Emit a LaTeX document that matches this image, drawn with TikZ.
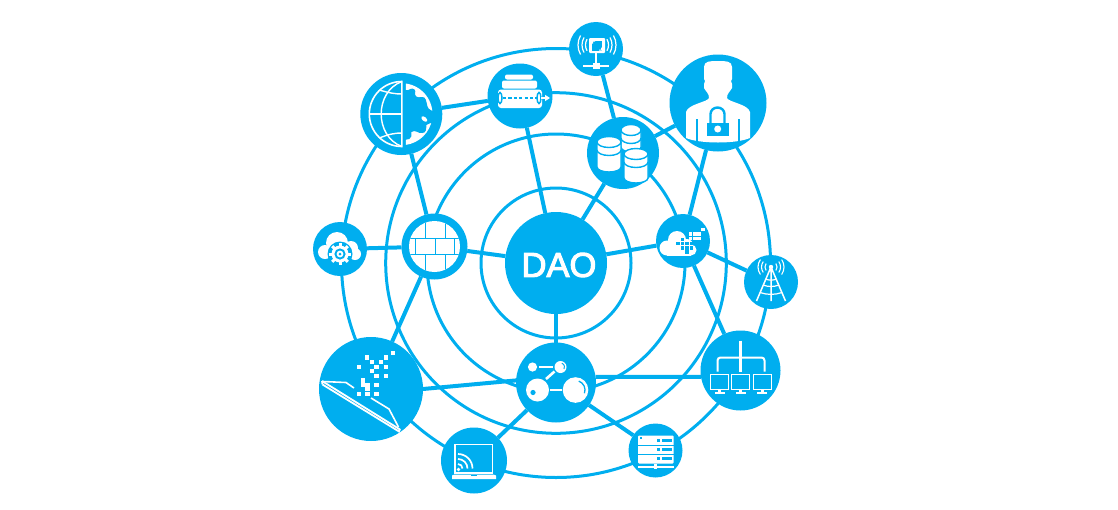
\documentclass[tikz,border=0pt]{standalone}
\usepackage{fontspec}
\setmainfont{Liberation Sans}
\newfontfamily\daofont[FakeBold=3]{Liberation Sans}
\usetikzlibrary{backgrounds}
\definecolor{dao}{HTML}{00AEEF}
\tikzset{
  x=1pt,y=-1pt,
  hub/.style={circle,fill=dao,inner sep=0pt,outer sep=0pt,minimum size=#1},
  ring/.style={draw=dao,line width=3pt},
  link/.style={draw=dao,line width=4pt},
  wl/.style={draw=white,line width=#1},
  wl/.default=1.3pt,
  bl/.style={draw=dao,line width=#1},
  bl/.default=1.3pt,
}
\begin{document}
\begin{tikzpicture}[line cap=butt]
\useasboundingbox (0,0) rectangle (1118,509);
\node[hub=102pt] (core) at (556,263) {};
\node[text=white,inner sep=0pt,font=\daofont\fontsize{34.5}{35}\selectfont] (daolabel) at (559,265) {DAO};
\node[hub=82pt] (globe) at (401.3,114) {};
\node[hub=65pt] (tunnel) at (520,96) {};
\node[hub=54pt] (chip) at (596,49) {};
\node[hub=97pt] (person) at (718,103) {};
\node[hub=72pt] (db) at (623,153) {};
\node[hub=54pt] (cloudpix) at (683,241) {};
\node[hub=54pt] (tower) at (771,282) {};
\node[hub=80pt] (network) at (740.5,370.5) {};
\node[hub=54pt] (server) at (655.5,450.5) {};
\node[hub=80pt] (molecule) at (556,382.5) {};
\node[hub=66pt] (laptop) at (474,460.5) {};
\node[hub=104pt] (tablet) at (371,389) {};
\node[hub=66pt] (firewall) at (434.5,246.5) {};
\node[hub=54pt] (cloudgear) at (340,249) {};
\begin{pgfonlayer}{background}
  \draw[ring] (core.center) circle[radius=75];
  \draw[ring] (core.center) circle[radius=129];
  \draw[ring] (core.center) circle[radius=170.3];
  \draw[ring] (core.center) circle[radius=214.5];
\end{pgfonlayer}
\foreach \a/\b in {globe/tunnel,globe/firewall,tunnel/core,chip/db,db/person,db/core,person/cloudpix,core/cloudpix,cloudpix/tower,cloudpix/network,core/molecule,core/firewall,firewall/cloudgear,firewall/tablet,molecule/laptop,molecule/server}
  \draw[link] (\a) -- (\b);
\draw[link] (tablet.0) -- (molecule.177);
\draw[link] (molecule.8) -- (network.189);

% globe
\begin{scope}[shift={(globe.center)}]
  \draw[wl=1.6pt] (0.5,-32.5) arc[start angle=-90,end angle=-270,radius=32.5] -- cycle;
  \draw[wl=1.4pt] (0.5,-32.5) .. controls (-27,-22) and (-27,22) .. (0.5,32.5);
  \draw[wl=1.4pt] (-22,-24) .. controls (-12,-21) and (-6,-20) .. (0.5,-20);
  \draw[wl=1.4pt] (-32,0) -- (0.5,0);
  \draw[wl=1.4pt] (-22,24) .. controls (-12,20) and (-6,19) .. (0.5,19);
  \fill[white] (4.5,-30.5) arc[start angle=-82,end angle=82,radius=31] -- cycle;
  \fill[dao] (3,-24) -- (7,-24) .. controls (10,-26) and (13,-26) .. (14,-23)
    .. controls (12,-17) and (17,-16) .. (20,-17) .. controls (25,-18) and (25,-12) .. (26,-8)
    .. controls (27,-4) and (31,-3) .. (35,-2) -- (35,9)
    .. controls (30,8) and (27,10) .. (25,11) .. controls (25,15) and (25,19) .. (21,19)
    .. controls (17,20) and (14,15) .. (10,18) .. controls (11,21) and (10,24) .. (8,25)
    .. controls (6,26) and (5,26) .. (3,26) -- cycle;
  \fill[white,rotate around={-40:(23,5)}] (23,5) ellipse[x radius=3.5,y radius=2];
\end{scope}

% tunnel
\begin{scope}[shift={(tunnel.center)}]
  \fill[white,rounded corners=2pt] (-15,-21.5) rectangle (13,-16.5);
  \fill[white,rounded corners=2pt] (-18,-15.5) rectangle (17,-7.5);
  \fill[white,rounded corners=3pt] (-22,-6.5) rectangle (22,12);
  \draw[bl=1.2pt,dash pattern=on 3.2pt off 2.2pt] (-17,2) -- (17,2);
  \draw[bl=1.5pt] (-20,2) ellipse[x radius=2,y radius=5.5];
  \draw[bl=1.5pt] (19,2) ellipse[x radius=2,y radius=5.5];
  \draw[wl=1.2pt] (21,2) -- (27,2);
  \fill[white] (25,-1.2) -- (30,2) -- (25,5.2) -- cycle;
\end{scope}

% chip
\begin{scope}[shift={(chip.center)}]
  \fill[white,rounded corners=1pt] (-7,-11) rectangle (9,4);
  \fill[dao] (-4,-8.5) rectangle (6,1.5);
  \fill[white] (-4,-8.5) rectangle (-1,-7.5) (-4,-8.5) rectangle (-3,-5.5);
  \fill[white] (6,1.5) rectangle (3,0.5) (6,1.5) rectangle (5,-1.5);
  \draw[wl=2pt] (0,4) -- (0,15);
  \draw[wl=2pt] (-13,17) -- (13,17);
  \fill[white] (-3.5,13.5) rectangle (3.5,20);
  \foreach \r in {11.5,15,19}{
    \draw[wl=1.2pt] (1,-4)+(150:\r) arc[start angle=150,end angle=210,radius=\r];
    \draw[wl=1.2pt] (1,-4)+(-30:\r) arc[start angle=-30,end angle=30,radius=\r];
  }
\end{scope}

% person
\begin{scope}[shift={(person.center)}]
  \fill[white] (-14,-36) .. controls (-14,-42) and (-8,-42) .. (0,-42) .. controls (8,-42) and (14,-42) .. (14,-36)
    -- (14,-24) -- (13,-22) -- (14,-19) -- (14,-15) .. controls (12,-11) and (9,-10) .. (9,-5)
    .. controls (10,-1) and (30,1) .. (32,9) -- (32,35) .. controls (18,41) and (-18,41) .. (-32,35) -- (-32,9)
    .. controls (-30,1) and (-10,-1) .. (-9,-5) .. controls (-9,-10) and (-12,-11) .. (-14,-15)
    -- (-14,-19) -- (-13,-22) -- (-14,-24) -- cycle;
  \draw[bl=1.6pt] (-21,16) -- (-21,40);
  \draw[bl=1.6pt] (21,16) -- (21,40);
  \fill[dao] (-11,20) rectangle (10.5,33);
  \draw[bl=2.4pt] (-7.5,21) -- (-7.5,11) arc[start angle=180,end angle=360,x radius=7,y radius=6.5] -- (6.5,21);
  \fill[white] (-0.3,26) circle[radius=3.5];
\end{scope}

% database
\begin{scope}[shift={(db.center)}]
  \foreach \cx/\ty/\by/\hw in {8/-23/-6/10, -14/-11/14/12, 13/1/25/12}{
    \filldraw[fill=white,draw=dao,line width=1.4pt] (\cx-\hw,\ty) arc[start angle=180,end angle=360,x radius=\hw,y radius=5.5]
      -- (\cx+\hw,\by) arc[start angle=0,end angle=180,x radius=\hw,y radius=5] -- cycle;
    \draw[bl=1.4pt] (\cx-\hw,\ty) arc[start angle=180,end angle=0,x radius=\hw,y radius=5.5];
    \draw[bl=1.4pt] (\cx-\hw,\ty+8) arc[start angle=180,end angle=0,x radius=\hw,y radius=5.5];
  }
\end{scope}

% firewall
\begin{scope}[shift={(firewall.center)}]
  \fill[white] (0,0) circle[radius=25.5];
  \begin{scope}
    \clip (0,0) circle[radius=25.5];
    \draw[bl=1.4pt] (-26,-8) -- (26,-8) (-26,8) -- (26,8);
    \draw[bl=1.4pt] (-9,-26) -- (-9,-8) (11,-26) -- (11,-8) (-9,8) -- (-9,26) (11,8) -- (11,26);
    \draw[bl=1.4pt] (-19,-8) -- (-19,8) (1,-8) -- (1,8) (20,-8) -- (20,8);
  \end{scope}
\end{scope}

% cloud with gear
\begin{scope}[shift={(cloudgear.center)}]
  \fill[white] (-15,3) circle[radius=7];
  \fill[white] (-3,-6) circle[radius=11];
  \fill[white] (11,-1) circle[radius=7];
  \fill[white] (15,5) circle[radius=6];
  \fill[white] (-10,-1) rectangle (12,10);
  \fill[dao] (0,5) circle[radius=12.5];
  \foreach \t in {0,45,...,315}
    \draw[white,line width=3pt] (0,5)+(\t:7) -- +(\t:11);
  \fill[white] (0,5) circle[radius=8.5];
  \fill[dao] (0,5) circle[radius=5.6];
  \fill[white] (0,5) circle[radius=3.4];
  \fill[dao] (0,5) circle[radius=1.5];
\end{scope}

% cloud with pixels
\begin{scope}[shift={(cloudpix.center)}]
  \fill[white] (-16,7) circle[radius=7.5];
  \fill[white] (-6,-1) circle[radius=9];
  \fill[white] (4,4) circle[radius=6];
  \fill[white] (8,9) circle[radius=5.5];
  \fill[white] (-16,6) rectangle (8,14.5);
  \foreach \p/\q in {-0.7/-1.7,-5/2.3,-0.7/2.3,4/2.3,8.4/2.3,-0.7/6.7,4/6.7,8.4/6.7,4/11}
    {\fill[dao] (\p-1.8,\q-1.8) rectangle ++(3.6,3.6);}
  \foreach \p/\q in {20/-11.7,16/-7,11.7/-7,7.3/-7,11.7/-2.7,7.3/-2.7,16/-2.7}
    {\fill[white] (\p-1.8,\q-1.8) rectangle ++(3.6,3.6);}
\end{scope}

% tower
\begin{scope}[shift={(tower.center)}]
  \draw[wl=1.5pt] (0,-15) -- (-14.5,19) (0,-15) -- (14.5,19) (0,-15) -- (0,19);
  \draw[wl=1.2pt] (-5.5,-3) .. controls (-2,-1.5) and (2,-1.5) .. (5.5,-3);
  \draw[wl=1.2pt] (-8,3) .. controls (-3,5) and (3,5) .. (8,3);
  \draw[wl=1.2pt] (-11,10.5) .. controls (-4,13) and (4,13) .. (11,10.5);
  \fill[white] (0,-15) circle[radius=2.2];
  \foreach \r in {6,9.5,13}{
    \draw[wl=1.1pt] (0,-15)+(145:\r) arc[start angle=145,end angle=215,radius=\r];
    \draw[wl=1.1pt] (0,-15)+(-35:\r) arc[start angle=-35,end angle=35,radius=\r];
  }
\end{scope}

% network
\begin{scope}[shift={(network.center)}]
  \draw[wl=2.4pt] (0,-30) -- (0,1);
  \draw[wl=2pt] (-23,1) -- (-23,-10) arc[start angle=180,end angle=270,radius=3] -- (21,-13) arc[start angle=270,end angle=360,radius=3] -- (24,1);
  \foreach \c in {-21,0,21.5}{
    \fill[white] (\c-9.5,3) rectangle (\c+9.5,19);
    \fill[dao] (\c-8.5,4) rectangle (\c+8.5,18);
    \fill[white] (\c-1.5,19) rectangle (\c+1.5,22);
    \fill[white] (\c-5,21.5) rectangle (\c+5,23);
  }
\end{scope}

% server
\begin{scope}[shift={(server.center)}]
  \fill[white,rounded corners=1pt] (-17.5,-15) rectangle (18,13);
  \draw[bl=1pt] (-17.5,-5.5) -- (18,-5.5) (-17.5,3.5) -- (18,3.5);
  \foreach \r in {-10,-1,8}{
    \fill[dao] (1,\r-1.2) rectangle (4,\r+1.2);
    \fill[dao] (6,\r-1.2) rectangle (16,\r+1.2);
  }
  \fill[dao] (-16,-14) rectangle (-14,-12);
  \fill[white] (-17.5,15.2) rectangle (18,17);
  \fill[white] (-1.5,13) rectangle (1.5,18);
\end{scope}

% molecule
\begin{scope}[shift={(molecule.center)}]
  \fill[white] (-23.5,-15.5) circle[radius=4.6];
  \fill[white] (4.5,-15.5) circle[radius=6];
  \draw[bl=1pt] (4.5,-15.5)+(-70:4) arc[start angle=-70,end angle=30,radius=4];
  \fill[white] (-18.5,7.5) circle[radius=11.5];
  \fill[dao] (-23,10) circle[radius=2.6];
  \fill[white] (19.5,7.5) circle[radius=12.8];
  \draw[bl=1.3pt] (19.5,7.5)+(-70:9.5) arc[start angle=-70,end angle=20,radius=9.5];
  \draw[wl=2.2pt] (-17,-15.5) -- (-3,-15.5);
  \draw[wl=2.6pt] (-10,-3.5) -- (-1.5,-11);
  \draw[wl=2.6pt] (-6,7.5) -- (5.5,7.5);
\end{scope}

% laptop
\begin{scope}[shift={(laptop.center)}]
  \draw[wl=1.2pt] (-19,-16) rectangle (18.5,12.5);
  \draw[wl=1.7pt] (-16,-6.5) arc[start angle=-90,end angle=0,radius=14.5];
  \draw[wl=1.7pt] (-16,-1.5) arc[start angle=-90,end angle=0,radius=9.5];
  \draw[wl=1.7pt] (-16,3.5) arc[start angle=-90,end angle=0,radius=4.5];
  \fill[white] (-15.5,9) circle[radius=1.8];
  \fill[white] (-22,15) -- (-19.5,14) -- (19.5,14) -- (22,15) -- (22,18.5) -- (-22,18.5) -- cycle;
  \fill[dao] (-3,14) rectangle (3,15.5);
\end{scope}

% tablet
\begin{scope}[shift={(tablet.center)}]
  \foreach \p/\q in {21.7/-36,14.7/-31.7,-4/-31.7,1/-27,10/-27,-12.3/-22.3,5.3/-22.3,14.7/-22.3,1/-18,5.3/-13.3,14.7/-13.3,-8/-8.7,-8/-4.3,-3.7/-4.3,5.3/-4.3,-3.7/0,-12.3/5,-3.7/5,5.3/5}
    {\fill[white] (\p-2.2,\q-2.2) rectangle ++(4.4,4.4);}
  \draw[wl=1.8pt] (-49,-8) -- (29,40.5);
  \draw[wl=1.8pt] (-48.5,-4.5) -- (28,42.5) -- (29,40);
  \draw[wl=1.8pt] (-49,-8) -- (-48.5,-4.5);
  \draw[wl=1.6pt] (-48,-7.5) -- (-25,-6.5) -- (-17,-1);
  \draw[wl=1.6pt] (0,9) -- (18,20) -- (27.5,38);
\end{scope}
\end{tikzpicture}
\end{document}
